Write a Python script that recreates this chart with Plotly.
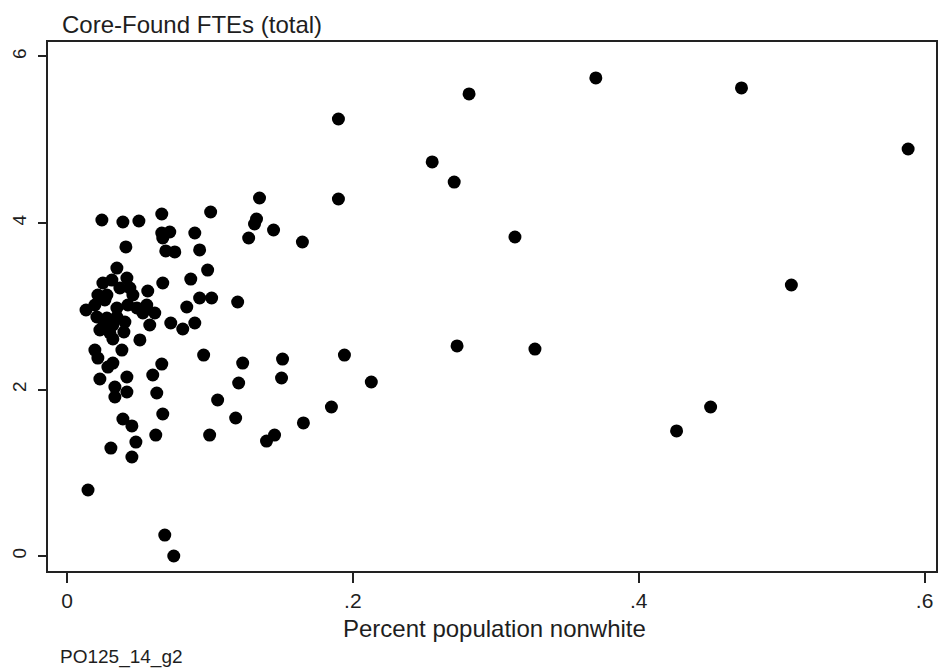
import plotly.graph_objects as go

# Share of population that is nonwhite, per site
pct_nonwhite = [
    0.0244, 0.0391, 0.0503, 0.0663, 0.1005, 0.0663, 0.0719, 0.0670, 0.0894, 0.0412,
    0.0691, 0.0754, 0.0928, 0.0349, 0.0984, 0.0866, 0.0670, 0.1347, 0.1899, 0.1326,
    0.1312, 0.1445, 0.1271, 0.1647, 0.0251, 0.0314, 0.0419, 0.0370, 0.0440, 0.0216,
    0.0279, 0.0461, 0.0565, 0.0195, 0.0265, 0.0349, 0.0426, 0.0489, 0.0558, 0.0133,
    0.0209, 0.0279, 0.0349, 0.0405, 0.0531, 0.0614, 0.0579, 0.0321, 0.0251, 0.0838,
    0.0928, 0.1012, 0.1194, 0.0726, 0.0810, 0.0894, 0.0230, 0.0300, 0.0398, 0.0321,
    0.0510, 0.0195, 0.0384, 0.0216, 0.0956, 0.0663, 0.0321, 0.0286, 0.0419, 0.0600,
    0.0230, 0.0335, 0.0335, 0.0419, 0.0628, 0.1054, 0.0670, 0.0391, 0.0454, 0.0621,
    0.0998, 0.0482, 0.0307, 0.0454, 0.0147, 0.0684, 0.0747, 0.1229, 0.1508, 0.1941,
    0.1201, 0.1501, 0.2129, 0.1180, 0.1850, 0.1654, 0.1396, 0.1452,
    0.2813, 0.3700, 0.1899, 0.4719, 0.5885, 0.2555, 0.2709, 0.3134, 0.5068, 0.2729,
    0.3274, 0.4503, 0.4265,
]

# Core-funded FTEs (total), per site
core_ftes = [
    4.036, 4.012, 4.024, 4.108, 4.132, 3.880, 3.892, 3.820, 3.880, 3.712,
    3.664, 3.652, 3.676, 3.459, 3.435, 3.327, 3.279, 4.300, 4.288, 4.048,
    3.988, 3.916, 3.820, 3.772, 3.279, 3.315, 3.339, 3.219, 3.219, 3.135,
    3.135, 3.135, 3.183, 3.015, 3.075, 2.979, 3.015, 2.979, 3.015, 2.955,
    2.871, 2.859, 2.871, 2.811, 2.919, 2.919, 2.775, 2.775, 2.751, 2.991,
    3.099, 3.099, 3.051, 2.799, 2.727, 2.799, 2.715, 2.679, 2.691, 2.607,
    2.595, 2.474, 2.474, 2.378, 2.414, 2.306, 2.318, 2.270, 2.150, 2.174,
    2.126, 2.030, 1.910, 1.970, 1.958, 1.874, 1.706, 1.646, 1.562, 1.453,
    1.453, 1.369, 1.297, 1.189, 0.793, 0.252, 0.000, 2.318, 2.366, 2.414,
    2.078, 2.138, 2.090, 1.658, 1.790, 1.598, 1.381, 1.453,
    5.550, 5.742, 5.249, 5.622, 4.889, 4.733, 4.492, 3.832, 3.255, 2.523,
    2.486, 1.790, 1.502,
]

x_ticks = [0, 0.2, 0.4, 0.6]
x_tick_text = ["0", ".2", ".4", ".6"]
y_ticks = [0, 2, 4, 6]
y_tick_text = ["0", "2", "4", "6"]

FONT = "Liberation Sans, Arial, sans-serif"
AXIS_COLOR = "#222222"
TEXT_COLOR = "#1e1e1e"

fig = go.Figure(
    go.Scatter(
        x=pct_nonwhite,
        y=core_ftes,
        mode="markers",
        marker=dict(color="black", size=13, line=dict(width=0)),
        hoverinfo="x+y",
    )
)

fig.update_layout(
    width=940,
    height=671,
    margin=dict(l=48, r=2, t=42, b=100),
    paper_bgcolor="white",
    plot_bgcolor="white",
    showlegend=False,
    font=dict(family=FONT, color=TEXT_COLOR),
    xaxis=dict(
        range=[-0.0133, 0.608],
        tickvals=x_ticks,
        ticktext=x_tick_text,
        ticks="outside",
        ticklen=10,
        tickwidth=2,
        tickcolor=AXIS_COLOR,
        showgrid=False,
        zeroline=False,
        showline=True,
        linecolor=AXIS_COLOR,
        linewidth=2,
        mirror=True,
        tickfont=dict(size=21, family=FONT, color=TEXT_COLOR),
    ),
    yaxis=dict(
        range=[-0.18, 6.174],
        tickvals=y_ticks,
        ticktext=y_tick_text,
        ticks="outside",
        ticklen=8,
        tickwidth=2,
        tickcolor=AXIS_COLOR,
        tickangle=-90,
        ticklabelstandoff=4,
        showgrid=False,
        zeroline=False,
        showline=True,
        linecolor=AXIS_COLOR,
        linewidth=2,
        mirror=True,
        tickfont=dict(size=19, family=FONT, color=TEXT_COLOR),
    ),
    annotations=[
        dict(
            text="Core-Found FTEs (total)",
            xref="paper", yref="paper",
            x=0.0135, y=1.0, yshift=2,
            xanchor="left", yanchor="bottom",
            showarrow=False,
            font=dict(size=24, family=FONT, color=TEXT_COLOR),
        ),
        dict(
            text="Percent population nonwhite",
            xref="paper", yref="paper",
            x=0.503, y=0, yshift=-42,
            xanchor="center", yanchor="top",
            showarrow=False,
            font=dict(size=24, family=FONT, color=TEXT_COLOR),
        ),
        dict(
            text="PO125_14_g2",
            xref="paper", yref="paper",
            x=0.011, y=0, yshift=-73,
            xanchor="left", yanchor="top",
            showarrow=False,
            font=dict(size=19, family=FONT, color=TEXT_COLOR),
        ),
    ],
)

fig.write_html("out.html")
